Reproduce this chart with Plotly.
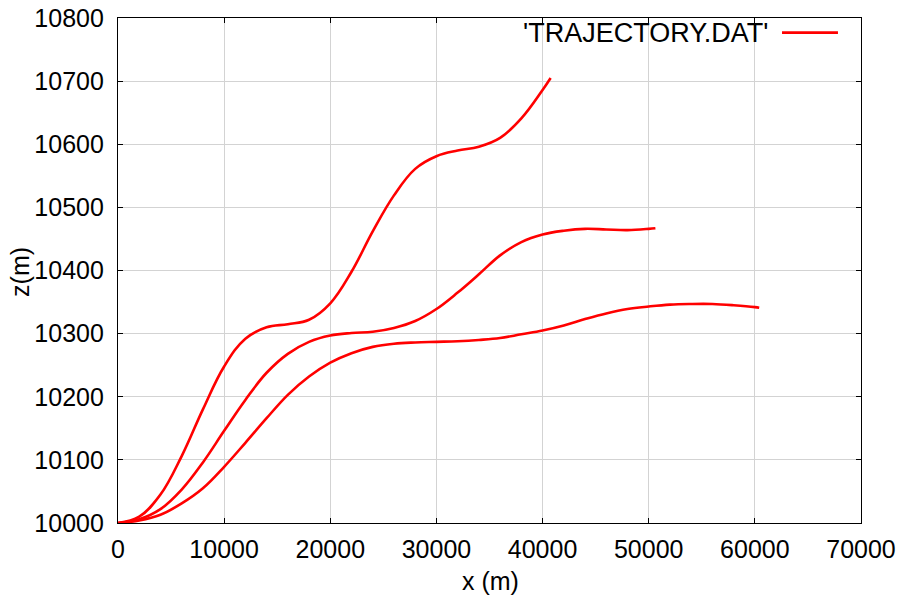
import plotly.graph_objects as go

# Trajectory samples (x in m, z in m) for three runs
x_run1 = [0, 2000, 4000, 6000, 8000, 10000, 12000, 14000, 16000, 18000, 20000, 22000,
          24000, 26000, 28000, 30000, 32000, 34000, 36000, 38000, 40000, 40760]
z_run1 = [10000, 10010, 10045, 10106, 10180, 10248, 10292, 10310, 10315, 10322, 10348, 10398,
          10462, 10519, 10561, 10581, 10590, 10596, 10610, 10641, 10686, 10705]

x_run2 = [0, 2000, 4000, 6000, 8000, 10000, 12000, 14000, 16000, 18000, 20000, 22000,
          24000, 26000, 28000, 30000, 32000, 34000, 36000, 38000, 40000, 42000, 44000,
          46000, 48000, 50000, 50630]
z_run2 = [10000, 10006, 10022, 10053, 10096, 10146, 10195, 10238, 10268, 10287, 10297, 10301,
          10303, 10309, 10320, 10339, 10365, 10394, 10424, 10445, 10457, 10463, 10466,
          10465, 10464, 10466, 10467]

x_run3 = [0, 2000, 4000, 6000, 8000, 10000, 12000, 14000, 16000, 18000, 20000, 22000,
          24000, 26000, 28000, 30000, 32000, 34000, 36000, 38000, 40000, 42000, 44000,
          46000, 48000, 50000, 52000, 54000, 56000, 58000, 60000, 60410]
z_run3 = [10000, 10004, 10013, 10031, 10055, 10089, 10127, 10166, 10203, 10232, 10254, 10269,
          10279, 10284, 10286, 10287, 10288, 10290, 10293, 10299, 10305, 10313, 10323,
          10332, 10339, 10343, 10346, 10347, 10347, 10345, 10342, 10341]

x_ticks = [0, 10000, 20000, 30000, 40000, 50000, 60000, 70000]
z_ticks = [10000, 10100, 10200, 10300, 10400, 10500, 10600, 10700, 10800]

# Runs are stored as blocks separated by gaps, like a data file with blank lines
xs, zs = [], []
for xr, zr in [(x_run1, z_run1), (x_run2, z_run2), (x_run3, z_run3)]:
    xs += xr + [None]
    zs += zr + [None]

FONT = "Liberation Sans, Arial, sans-serif"
RED = "#ff0000"

fig = go.Figure()
fig.add_trace(go.Scatter(
    x=xs, y=zs, mode="lines", name="'TRAJECTORY.DAT'",
    line=dict(color=RED, width=2.6, shape="spline", smoothing=1.1),
    connectgaps=False, showlegend=False,
))

axis_common = dict(
    showgrid=True, gridcolor="#d3d3d3", gridwidth=1,
    showline=True, linecolor="black", linewidth=1.2, mirror="ticks",
    ticks="inside", ticklen=5, tickcolor="black", tickwidth=1,
    zeroline=False, automargin=False,
    tickfont=dict(family=FONT, size=25, color="black"),
)

fig.update_xaxes(range=[0, 70000], tickvals=x_ticks, ticktext=[str(v) for v in x_ticks],
                 ticklabelstandoff=4, **axis_common)
fig.update_yaxes(range=[10000, 10800], tickvals=z_ticks, ticktext=[str(v) for v in z_ticks],
                 ticklabelstandoff=8, **axis_common)

# Axis titles
fig.add_annotation(xref="paper", yref="paper", x=0.5007, y=-0.115, xanchor="center", yanchor="middle",
                   text="x (m)", showarrow=False, font=dict(family=FONT, size=25, color="black"))
fig.add_annotation(xref="paper", yref="paper", x=-0.132, y=0.497, xanchor="center", yanchor="middle",
                   text="z(m)", textangle=-90, showarrow=False,
                   font=dict(family=FONT, size=25, color="black"))

# Key in the top-right corner: label followed by a line sample
fig.add_annotation(xref="paper", yref="paper", x=0.8775, y=0.970, xanchor="right", yanchor="middle",
                   text="'TRAJECTORY.DAT'", showarrow=False,
                   font=dict(family=FONT, size=27, color="black"))
fig.add_shape(type="line", xref="paper", yref="paper", x0=0.8937, x1=0.969, y0=0.971, y1=0.971,
              line=dict(color=RED, width=2.6))

fig.update_layout(
    width=901, height=599,
    margin=dict(l=118, r=40, t=18, b=76),
    paper_bgcolor="white", plot_bgcolor="white",
    font=dict(family=FONT, color="black"),
)

fig.write_html("out.html")
